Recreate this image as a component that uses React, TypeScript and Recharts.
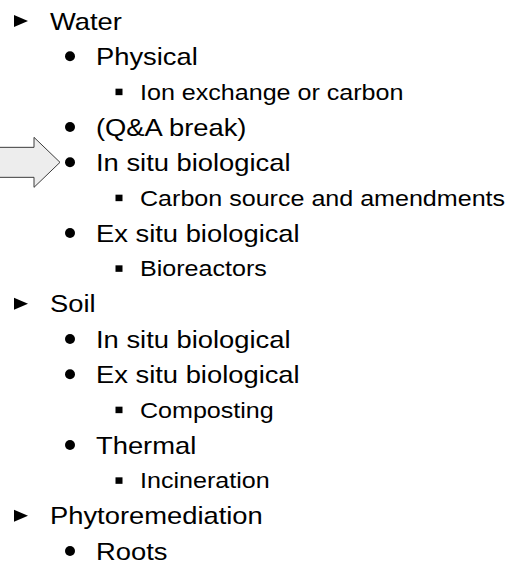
import * as React from "react"
import { ScatterChart, Scatter, XAxis, YAxis } from "recharts"

// outline entries, top to bottom
const labels = [
  "Water",
  "Physical",
  "Ion exchange or carbon",
  "(Q&A break)",
  "In situ biological",
  "Carbon source and amendments",
  "Ex situ biological",
  "Bioreactors",
  "Soil",
  "In situ biological",
  "Ex situ biological",
  "Composting",
  "Thermal",
  "Incineration",
  "Phytoremediation",
  "Roots",
]
const levels = [0, 1, 2, 1, 1, 2, 1, 2, 0, 1, 1, 2, 1, 2, 0, 1]
// row the big arrow points at
const pointerRow = 4

type Item = { row: number; level: number; label: string; pointer: boolean }

const data: Item[] = labels.map((label, i) => ({
  row: i,
  level: levels[i],
  label,
  pointer: i === pointerRow,
}))

const FONT = '"Liberation Sans", Arial, sans-serif'
const STRETCH = 1.14

const textStyle = [
  { size: 24, gap: 29 },
  { size: 24, gap: 26 },
  { size: 22, gap: 21 },
]

const Bullet = ({ level, cx, cy }: { level: number; cx: number; cy: number }) => {
  if (level === 0) {
    return <polygon points={`${cx - 7},${cy - 6} ${cx - 7},${cy + 6} ${cx + 7},${cy}`} fill="#000" />
  }
  if (level === 1) {
    return <circle cx={cx} cy={cy} r={5} fill="#000" />
  }
  return <rect x={cx - 3.5} y={cy - 3} width={7} height={6.5} fill="#000" />
}

const Pointer = ({ cx, cy }: { cx: number; cy: number }) => {
  const tip = cx - 10
  const back = tip - 26
  const pts = [
    [-2, cy - 15],
    [back, cy - 15],
    [back, cy - 25],
    [tip, cy],
    [back, cy + 25],
    [back, cy + 15],
    [-2, cy + 15],
  ]
  return (
    <polygon
      points={pts.map((p) => p.join(",")).join(" ")}
      fill="#ededed"
      stroke="#3c3c3c"
      strokeWidth={1}
    />
  )
}

const OutlineItem = (props: any) => {
  const { cx, cy, payload } = props
  const st = textStyle[payload.level]
  const tx = cx + st.gap
  const ty = cy + st.size * 0.36
  return (
    <g>
      {payload.pointer && <Pointer cx={cx} cy={cy} />}
      <Bullet level={payload.level} cx={cx} cy={cy} />
      <text
        transform={`translate(${tx},${ty}) scale(${STRETCH},1)`}
        fontFamily={FONT}
        fontSize={st.size}
        fill="#000"
      >
        {payload.label}
      </text>
    </g>
  )
}

export default function App() {
  return (
    <div style={{ position: "absolute", left: 0, top: 0, background: "#fff" }}>
      <ScatterChart
        width={509}
        height={569}
        margin={{ top: 21, right: 390, bottom: 18, left: 21 }}
      >
        <XAxis type="number" dataKey="level" domain={[0, 2]} hide />
        <YAxis type="number" dataKey="row" domain={[0, 15]} reversed hide />
        <Scatter data={data} isAnimationActive={false} shape={(p: any) => <OutlineItem {...p} />} />
      </ScatterChart>
    </div>
  )
}
